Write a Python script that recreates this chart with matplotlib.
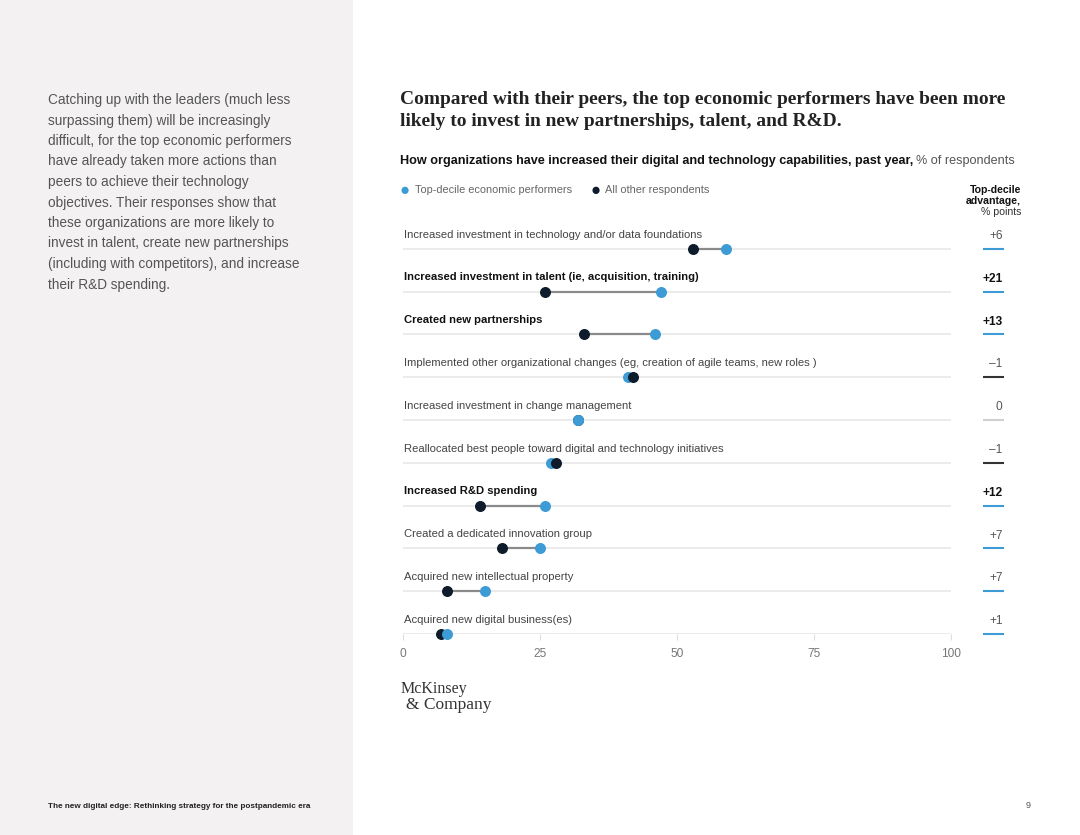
import matplotlib.pyplot as plt
from matplotlib.patches import Rectangle

# Data
actions = [
    "Increased investment in technology and/or data foundations",
    "Increased investment in talent (ie, acquisition, training)",
    "Created new partnerships",
    "Implemented other organizational changes (eg, creation of agile teams, new roles )",
    "Increased investment in change management",
    "Reallocated best people toward digital and technology initiatives",
    "Increased R&D spending",
    "Created a dedicated innovation group",
    "Acquired new intellectual property",
    "Acquired new digital business(es)",
]
top_decile = [59, 47, 46, 41, 32, 27, 26, 25, 15, 8]
all_others = [53, 26, 33, 42, 32, 28, 14, 18, 8, 7]
highlighted = [False, True, True, False, False, False, True, False, False, False]
x_ticks = [0, 25, 50, 75, 100]

BLUE = "#3d9bd5"
NAVY = "#0d1b2a"
GREY_TXT = "#666666"

plt.rcParams['font.family'] = ['Liberation Sans', 'DejaVu Sans']

fig = plt.figure(figsize=(10.8, 8.35), dpi=100)
W, H = 1080, 835

def fx(px):
    return px / W

def fy(py):
    return 1 - py / H

# left grey panel
fig.patches.append(Rectangle((0, 0), fx(353), 1, transform=fig.transFigure,
                             facecolor="#f3f1f2", edgecolor="none", zorder=0))

left_lines = [
    "Catching up with the leaders (much less",
    "surpassing them) will be increasingly",
    "difficult, for the top economic performers",
    "have already taken more actions than",
    "peers to achieve their technology",
    "objectives. Their responses show that",
    "these organizations are more likely to",
    "invest in talent, create new partnerships",
    "(including with competitors), and increase",
    "their R&D spending.",
]
for i, line in enumerate(left_lines):
    fig.text(fx(48), fy(100 + i * 20.5), line, fontsize=9.85, color="#555555",
             va="center", ha="left")

fig.text(fx(48), fy(806), "The new digital edge: Rethinking strategy for the postpandemic era",
         fontsize=5.9, weight="bold", color="#222222", va="center", ha="left")
fig.text(fx(1028), fy(806), "9", fontsize=6.5, color="#555555", va="center", ha="center")

# titles
fig.text(fx(400), fy(99), "Compared with their peers, the top economic performers have been more",
         family=['Liberation Serif'], fontsize=13.95, weight="bold", color="#222222", va="center")
fig.text(fx(400), fy(121), "likely to invest in new partnerships, talent, and R&D.",
         family=['Liberation Serif'], fontsize=13.95, weight="bold", color="#222222", va="center")

sub = fig.text(fx(400), fy(161),
               "How organizations have increased their digital and technology capabilities, past year,",
               fontsize=9.1, weight="bold", color="#111111", va="center")
fig.canvas.draw()
bb = sub.get_window_extent()
fig.text(bb.x1 / W + 0.003, fy(161), "% of respondents", fontsize=9.1, color="#555555", va="center")

# legend
fig.text(fx(405), fy(190), "\u25CF", fontsize=12, color=BLUE, va="center", ha="center")
fig.text(fx(415), fy(190), "Top-decile economic performers", fontsize=7.9, color=GREY_TXT, va="center")
fig.text(fx(596), fy(190), "\u25CF", fontsize=12, color=NAVY, va="center", ha="center")
fig.text(fx(605), fy(190), "All other respondents", fontsize=7.9, color=GREY_TXT, va="center")

fig.text(fx(1021), fy(190), "Top-decile", fontsize=7.6, weight="bold", color="#111111", va="center", ha="right")
fig.text(fx(1021), fy(201), "advantage,", fontsize=7.6, weight="bold", color="#111111", va="center", ha="right")
fig.text(fx(1021), fy(212), "% points", fontsize=7.6, color="#333333", va="center", ha="right")

# main axes: row i sits at pixel 249 + i*42.8
row_gap = 42.8
ax_top, ax_bot = 220, 634
ax = fig.add_axes([fx(403), fy(ax_bot), fx(951) - fx(403), (ax_bot - ax_top) / H])
ax.set_xlim(0, 100)
n = len(actions)
ax.set_ylim(n - 1, (n - 1) - (ax_bot - ax_top) / row_gap)
ax.patch.set_alpha(0)
for s in ax.spines.values():
    s.set_visible(False)
ax.set_yticks([])
ax.set_xticks(x_ticks)
ax.set_xticklabels([str(t) for t in x_ticks])
ax.tick_params(axis="x", length=4, color="#dddddd", labelcolor="#777777", labelsize=8.6, pad=6)

for i in range(n):
    ax.plot([0, 100], [i, i], color="#e6e6e6", lw=1.1, zorder=1, solid_capstyle="butt")
    lo, hi = sorted([top_decile[i], all_others[i]])
    ax.plot([lo, hi], [i, i], color="#8a8a8a", lw=1.6, zorder=2)
    # the larger value is drawn on top; ties show the top-decile dot on top
    if all_others[i] > top_decile[i]:
        order = [(top_decile[i], BLUE), (all_others[i], NAVY)]
    else:
        order = [(all_others[i], NAVY), (top_decile[i], BLUE)]
    for z, (xv, c) in enumerate(order):
        ax.plot(xv, i, "o", ms=6.9, color=c, zorder=3 + z, clip_on=False)

    wt = "bold" if highlighted[i] else "normal"
    col = "#111111" if highlighted[i] else "#444444"
    ax.text(0.2, i - 0.33, actions[i], fontsize=8.1, weight=wt, color=col, va="center", ha="left")

    diff = top_decile[i] - all_others[i]
    if diff > 0:
        lab, ucol = f"+{diff}", BLUE
    elif diff < 0:
        lab, ucol = f"\u2013{abs(diff)}", "#333333"
    else:
        lab, ucol = "0", "#d0d0d0"
    ax.text(109.4, i - 0.3, lab, fontsize=8.6, weight=wt, color=col if highlighted[i] else "#555555",
            va="center", ha="right", clip_on=False)
    ax.plot([105.8, 109.6], [i, i], color=ucol, lw=1.5, clip_on=False, solid_capstyle="butt")

# logo
fig.text(fx(401), fy(689), "McKinsey", family=['Liberation Serif'], fontsize=11.5, color="#333333", va="center")
fig.text(fx(406), fy(705), "& Company", family=['Liberation Serif'], fontsize=12.5, color="#333333", va="center")

plt.savefig("out.png", dpi=100)
